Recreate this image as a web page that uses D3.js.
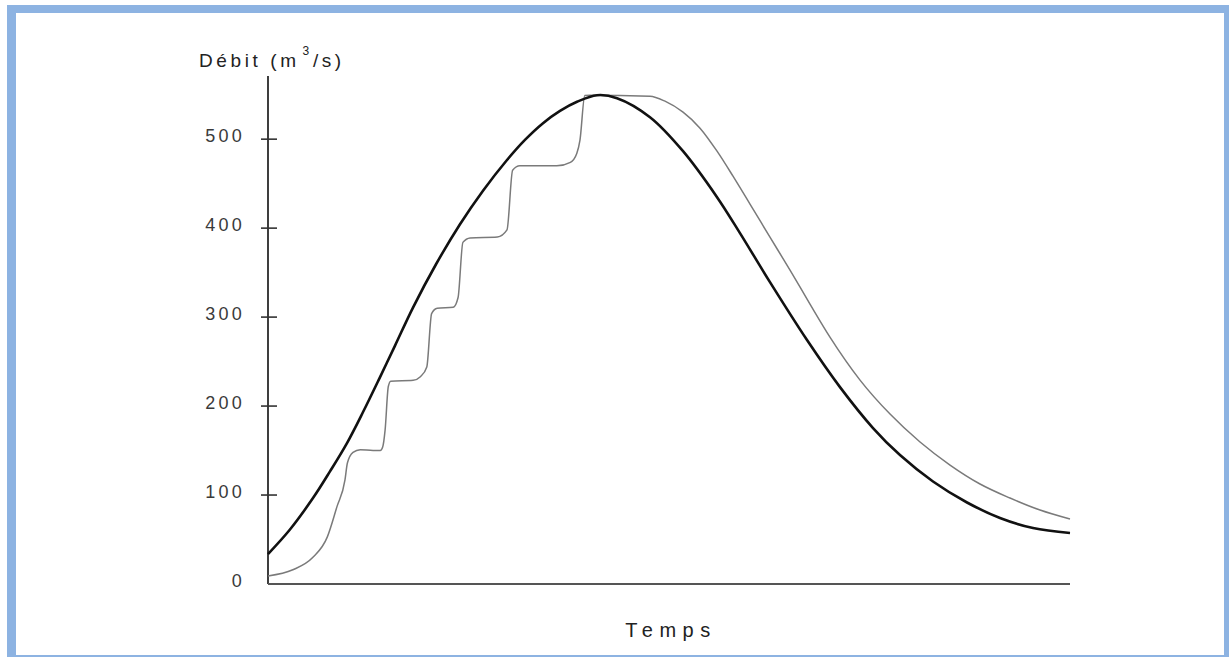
<!DOCTYPE html>
<html>
<head>
<meta charset="utf-8">
<script src="https://cdn.jsdelivr.net/npm/d3@7/dist/d3.min.js"></script>
<style>
  html, body { margin: 0; padding: 0; background: #fff; }
  svg { display: block; }
  text { font-family: "Liberation Sans", Arial, Helvetica, sans-serif; }
</style>
</head>
<body>
<svg id="chart" width="1229" height="657"></svg>
<script>
// Hydrogramme d'entrée (courbe épaisse) : temps relatif (0-100) et débit (m3/s)
const inflowTime = [0, 2.74, 5.61, 7.73, 9.85, 11.85, 13.97, 15.84, 18.08, 20.95, 23.94, 26.81, 29.8, 32.04, 34.29, 36.41, 38.53, 41.02, 43.52, 47.63, 51.75, 55.99, 58.85, 62.59, 67.21, 71.32, 75.44, 78.8, 82.92, 87.16, 91.27, 95.39, 100];
const inflowFlow = [33.7, 61.3, 96.6, 126.6, 158.4, 193.3, 232.6, 268.0, 310.7, 359.4, 404.4, 442.1, 476.6, 499.2, 518.0, 531.8, 542.0, 549.4, 546.1, 524.7, 486.5, 434.8, 394.4, 339.3, 274.2, 221.3, 175.3, 144.9, 115.2, 91.6, 74.2, 62.9, 57.3];

// Hydrogramme de sortie en escalier (courbe fine)
const outflowTime = [0, 3.1, 5.6, 7.4, 8.6, 9.6, 9.9, 10.6, 11.5, 13.1, 14.0, 14.3, 14.6, 15.0, 15.3, 18.1, 19.0, 19.8, 20.4, 21.1, 23.1, 23.7, 24.3, 25.2, 28.6, 29.8, 30.5, 31.4, 36.0, 37.7, 38.5, 38.9, 39.5, 40.15, 47.63, 49.5, 51.75, 53.87, 55.99, 57.98, 60.1, 62.59, 65.09, 67.58, 70.07, 73.82, 77.56, 81.3, 85.04, 88.78, 92.52, 96.26, 100];
const outflowFlow = [9, 16, 30, 53, 87, 117, 136, 148, 151, 150, 150, 154, 173, 222, 228, 229, 233, 244, 304, 310, 311, 322, 384, 389, 390, 398, 465, 470, 470, 474, 484, 499, 549, 549.4, 548.3, 542.7, 530.3, 512.4, 486.5, 458.4, 427.0, 389.9, 352.8, 314.6, 277.5, 229.2, 191.0, 159.6, 133.7, 112.4, 96.6, 83.1, 73.0];

const yTicks = [0, 100, 200, 300, 400, 500];
const yTitle = "Débit (m";
const yTitleSup = "3";
const yTitleEnd = "/s)";
const xTitle = "Temps";

const svg = d3.select("#chart");
const W = 1229, H = 657;

// Cadre bleu
svg.append("rect").attr("x", 7).attr("y", 5).attr("width", W - 7).attr("height", H - 5).attr("fill", "#8db3e2");
svg.append("rect").attr("x", 16).attr("y", 13).attr("width", 1208).attr("height", 642).attr("fill", "#ffffff");

const x = d3.scaleLinear().domain([0, 100]).range([268, 1070]);
const y = d3.scaleLinear().domain([0, 571]).range([584, 76]);

// Axes
svg.append("line")
  .attr("x1", x(0)).attr("x2", x(0)).attr("y1", y(571)).attr("y2", y(0))
  .attr("stroke", "#2a2a2a").attr("stroke-width", 1.8);
svg.append("line")
  .attr("x1", x(0)).attr("x2", x(100)).attr("y1", y(0)).attr("y2", y(0))
  .attr("stroke", "#555").attr("stroke-width", 2);

// Graduations traversant l'axe vertical
svg.selectAll(".tick").data(yTicks.filter(d => d > 0)).enter().append("line")
  .attr("class", "tick")
  .attr("x1", x(0) - 7).attr("x2", x(0) + 9)
  .attr("y1", d => y(d)).attr("y2", d => y(d))
  .attr("stroke", "#333").attr("stroke-width", 1.6);

svg.selectAll(".tlabel").data(yTicks).enter().append("text")
  .attr("class", "tlabel")
  .attr("x", 245)
  .attr("y", d => y(d) + 2.5)
  .attr("text-anchor", "end")
  .attr("font-size", 18)
  .attr("letter-spacing", 3.2)
  .attr("fill", "#3a3a3a")
  .text(d => d);

// Titre de l'axe vertical avec exposant
const t = svg.append("text")
  .attr("x", 199).attr("y", 67)
  .attr("font-size", 19)
  .attr("letter-spacing", 3.6)
  .attr("fill", "#222");
t.append("tspan").text(yTitle);
t.append("tspan").attr("dx", 3).attr("dy", -12).attr("font-size", 12).text(yTitleSup);
t.append("tspan").attr("dy", 12).text(yTitleEnd);

// Titre de l'axe horizontal
svg.append("text")
  .attr("x", 671).attr("y", 637)
  .attr("text-anchor", "middle")
  .attr("font-size", 20)
  .attr("letter-spacing", 6.5)
  .attr("fill", "#222")
  .text(xTitle);

const stepLine = d3.line().x(d => x(d[0])).y(d => y(d[1])).curve(d3.curveMonotoneX);
const smoothLine = d3.line().x(d => x(d[0])).y(d => y(d[1])).curve(d3.curveCatmullRom.alpha(0.5));

svg.append("path")
  .datum(outflowTime.map((tt, i) => [tt, outflowFlow[i]]))
  .attr("d", stepLine)
  .attr("fill", "none")
  .attr("stroke", "#7a7a7a")
  .attr("stroke-width", 1.5);

svg.append("path")
  .datum(inflowTime.map((tt, i) => [tt, inflowFlow[i]]))
  .attr("d", smoothLine)
  .attr("fill", "none")
  .attr("stroke", "#111")
  .attr("stroke-width", 2.6);
</script>
</body>
</html>
